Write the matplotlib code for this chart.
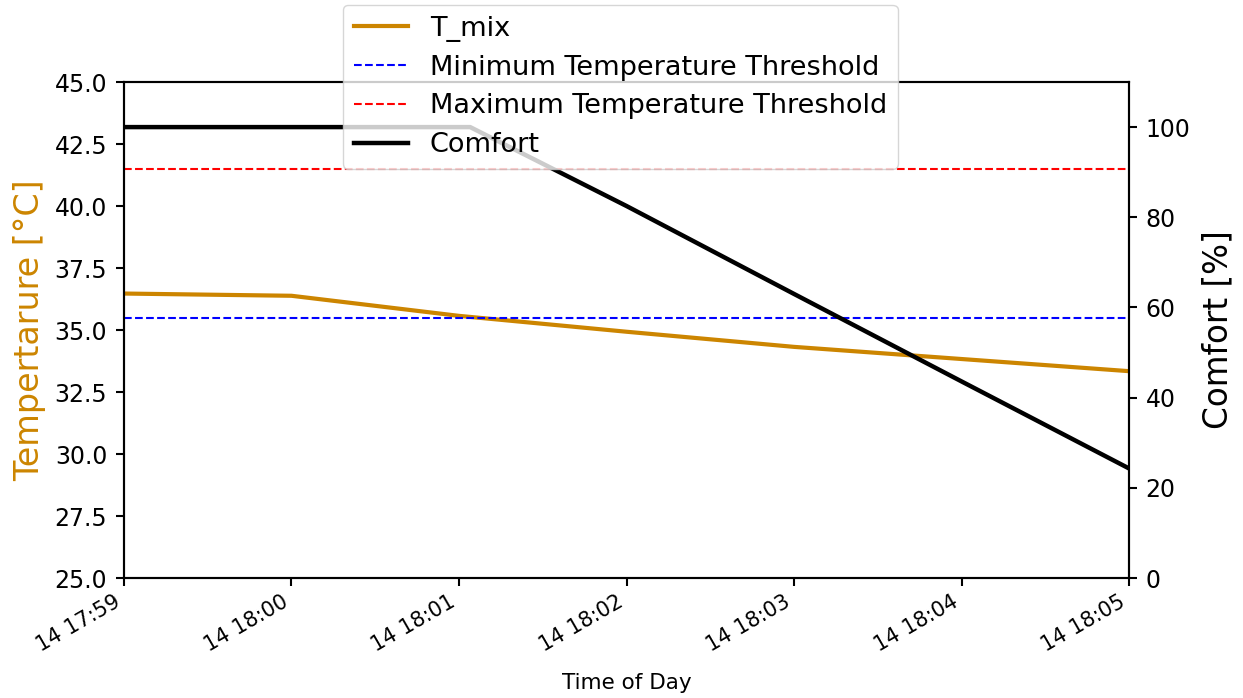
import matplotlib
matplotlib.use("Agg")
import matplotlib.pyplot as plt
import matplotlib.dates as mdates
import pandas as pd

# Data
t_times = ["2021-01-14 17:59:00", "2021-01-14 18:00:00", "2021-01-14 18:01:00",
           "2021-01-14 18:02:00", "2021-01-14 18:03:00", "2021-01-14 18:04:00",
           "2021-01-14 18:05:00"]
t_mix = [36.47, 36.38, 35.57, 34.93, 34.32, 33.83, 33.34]

c_times = ["2021-01-14 17:59:00", "2021-01-14 18:00:00", "2021-01-14 18:01:04",
           "2021-01-14 18:02:00", "2021-01-14 18:03:00", "2021-01-14 18:04:00",
           "2021-01-14 18:05:00"]
comfort = [100, 100, 100, 82.5, 63.0, 43.6, 24.3]

t_min = 35.5
t_max = 41.5

tt = pd.to_datetime(t_times)
ct = pd.to_datetime(c_times)

plt.rcParams["axes.linewidth"] = 1.5

fig = plt.figure(figsize=(12.43, 6.98), dpi=100)
ax1 = fig.add_axes([124/1243, 1-578/698, (1129-124)/1243, (578-82)/698])
ax2 = ax1.twinx()

orange = "#cc8500"
l1, = ax1.plot(tt, t_mix, color=orange, lw=3, label="T_mix")
l2 = ax1.axhline(t_min, color="blue", ls="--", lw=1.5, label="Minimum Temperature Threshold")
l3 = ax1.axhline(t_max, color="red", ls="--", lw=1.5, label="Maximum Temperature Threshold")
l4, = ax2.plot(ct, comfort, color="black", lw=3.2, label="Comfort")

ax1.set_ylim(25, 45)
ax2.set_ylim(0, 110)
ax1.set_xlim(tt[0], tt[-1])

ax1.set_yticks([25, 27.5, 30, 32.5, 35, 37.5, 40, 42.5, 45])
ax1.set_yticklabels(["25.0", "27.5", "30.0", "32.5", "35.0", "37.5", "40.0", "42.5", "45.0"])
ax2.set_yticks([0, 20, 40, 60, 80, 100])

ax1.xaxis.set_major_locator(mdates.MinuteLocator())
ax1.xaxis.set_major_formatter(mdates.DateFormatter("%d %H:%M"))

ax1.tick_params(axis="y", labelsize=17, length=6, width=1.5, pad=6)
ax2.tick_params(axis="y", labelsize=17, length=6, width=1.5, pad=6)
ax1.tick_params(axis="x", labelsize=15, length=6, width=1.5, pad=4)

for lab in ax1.get_xticklabels():
    lab.set_rotation(30)
    lab.set_ha("right")

ax1.set_ylabel("Tempertarure [°C]", color=orange, fontsize=24, labelpad=6)
ax2.set_ylabel("Comfort [%]", fontsize=23.5, labelpad=8)
ax1.set_xlabel("Time of Day", fontsize=15.5, labelpad=12)

leg = ax2.legend(handles=[l1, l2, l3, l4], loc="upper left",
                 bbox_to_anchor=(343/1243, 1-5/698), bbox_transform=fig.transFigure,
                 borderaxespad=0, fontsize=19.5, labelspacing=0.47, framealpha=0.8)

fig.savefig("out.png", dpi=100)
